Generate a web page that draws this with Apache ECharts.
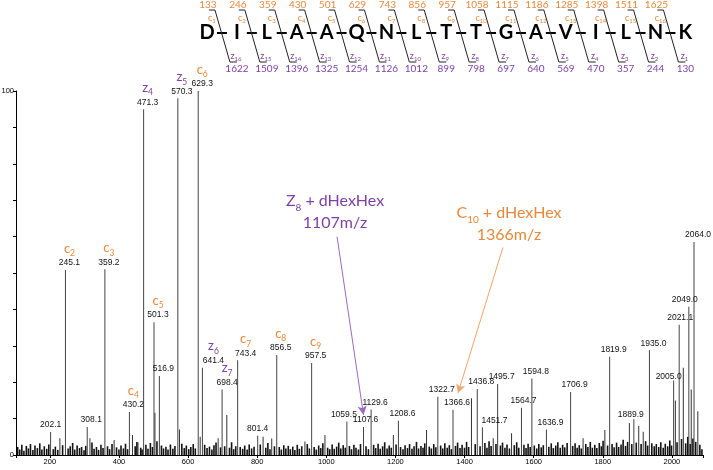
<!DOCTYPE html>
<html>
<head>
<meta charset="utf-8">
<script src="https://cdn.jsdelivr.net/npm/echarts@6/dist/echarts.min.js"></script>
<style>
html, body { margin: 0; padding: 0; background: #fff; }
#chart { width: 713px; height: 470px; }
</style>
</head>
<body>
<div id="chart"></div>
<script>
// labelled peaks (m/z, relative intensity %)
const peakMz = [202.1, 245.1, 308.1, 359.2, 430.2, 471.3, 501.3, 516.9, 570.3, 629.3, 641.4, 698.4,
    743.4, 801.4, 856.5, 957.5, 1059.5, 1107.6, 1129.6, 1208.6, 1322.7, 1366.6, 1436.8, 1451.7,
    1495.7, 1564.7, 1594.8, 1636.9, 1706.9, 1819.9, 1889.9, 1935.0, 2005.0, 2021.1, 2049.0, 2064.0];
const peakInt = [6.3, 50.8, 7.7, 51.0, 11.8, 95.0, 36.5, 21.7, 98.0, 100, 24.0, 18.0,
    26.0, 5.3, 27.5, 25.3, 9.2, 7.7, 12.5, 9.4, 16.0, 12.4, 18.1, 7.6,
    19.5, 13.0, 21.0, 7.0, 17.3, 27.0, 9.8, 28.8, 20.5, 35.8, 40.7, 58.5];
const peakIon = ['', 'c2', '', 'c3', 'c4', 'z4', 'c5', '', 'z5', 'c6', 'z6', 'z7',
    'c7', '', 'c8', 'c9', '', '', '', '', '', '', '', '',
    '', '', '', '', '', '', '', '', '', '', '', ''];

// unlabelled but visible peaks
const minorMz = [229, 316, 386, 439, 455, 504, 575, 635, 687, 712, 817, 842, 938, 996, 1194, 1290,
    1420, 1483, 1536, 1743, 1806, 1877, 1904, 1917, 2010, 2033, 2056, 2075];
const minorInt = [4.6, 4.6, 4.1, 5.5, 3.5, 11.6, 7.0, 5.0, 4.6, 11.0, 5.0, 4.5, 3.7, 5.5, 5.5, 6.9,
    15.6, 4.6, 6.0, 4.6, 6.9, 8.8, 8.0, 6.4, 15.0, 24.0, 18.0, 12.0];

// baseline noise
const noise = [
    [106,2.2],[112,1.5],[118,2.8],[124,1.2],[131,2.5],[137,1.8],[143,3.0],[150,1.4],[156,2.6],[163,1.9],
    [170,3.2],[176,1.5],[183,2.4],[190,1.7],[196,2.9],[209,1.6],[215,2.3],[222,1.4],[236,2.7],[252,1.8],
    [258,2.4],[265,3.3],[271,1.5],[278,2.6],[285,1.9],[291,2.2],[298,1.3],[303,2.5],[321,3.4],[327,1.7],
    [334,2.2],[340,1.4],[347,2.8],[353,1.9],[366,2.4],[372,1.6],[379,3.0],[392,2.1],[399,1.5],[405,2.6],
    [412,1.8],[418,3.1],[424,1.6],[446,2.4],[451,3.6],[462,2.0],[466,1.5],[477,2.8],[483,1.7],[490,3.3],
    [496,2.2],[509,3.8],[522,2.6],[528,1.8],[535,2.3],[541,1.5],[548,2.9],[555,1.7],[561,2.5],[581,3.1],
    [588,1.9],[594,2.6],[601,1.6],[607,2.2],[614,3.0],[620,1.8],[647,2.8],[654,1.9],[661,2.3],[668,1.5],
    [674,2.7],[680,3.4],[693,2.1],[705,2.4],[719,2.0],[725,3.5],[731,1.6],[737,2.4],[750,2.2],[757,1.7],
    [763,2.6],[770,1.5],[776,2.9],[783,1.8],[790,2.3],[808,2.9],[824,2.0],[830,3.3],[836,1.6],[849,2.4],
    [863,2.2],[869,1.5],[876,2.7],[882,1.8],[889,2.5],[895,1.6],[902,2.3],[908,1.4],[915,2.8],[921,1.7],
    [928,2.4],[944,3.0],[950,1.8],[964,2.2],[970,1.5],[977,2.6],[983,1.9],[989,3.2],[1003,2.0],[1009,1.6],
    [1016,2.9],[1022,1.7],[1029,2.3],[1035,3.4],[1041,1.8],[1048,2.7],[1054,2.0],[1066,2.5],[1072,1.6],[1079,2.8],
    [1085,2.0],[1092,1.5],[1098,3.0],[1114,2.4],[1121,1.6],[1136,2.8],[1142,1.9],[1149,3.1],[1155,1.7],[1162,2.4],
    [1168,3.5],[1175,1.8],[1181,2.6],[1187,2.0],[1201,2.9],[1214,2.2],[1221,1.6],[1227,2.7],[1234,1.9],[1240,3.0],
    [1247,1.7],[1253,2.4],[1260,3.6],[1266,1.8],[1273,2.5],[1279,2.0],[1284,3.2],[1297,2.3],[1303,1.8],[1310,3.0],
    [1316,2.1],[1330,2.6],[1336,1.8],[1342,3.2],[1349,2.0],[1355,2.7],[1361,1.6],[1373,2.5],[1379,3.4],[1386,1.9],
    [1392,2.8],[1399,2.0],[1405,3.6],[1411,2.2],[1430,3.0],[1444,2.4],[1458,3.3],[1464,2.0],[1470,3.8],[1476,2.5],
    [1490,3.0],[1503,2.6],[1509,3.4],[1516,2.0],[1522,2.9],[1529,1.8],[1543,2.7],[1550,3.5],[1556,2.0],[1571,2.8],
    [1577,1.9],[1583,3.1],[1589,2.2],[1601,2.6],[1608,1.8],[1614,3.0],[1621,2.1],[1627,2.7],[1643,2.3],[1650,3.2],
    [1656,1.9],[1663,2.6],[1669,3.5],[1676,2.0],[1683,2.8],[1689,2.1],[1696,3.3],[1712,2.5],[1719,3.2],[1725,2.0],
    [1731,2.7],[1737,1.8],[1750,3.0],[1756,2.2],[1763,3.6],[1769,2.0],[1776,2.8],[1782,1.9],[1789,3.3],[1795,2.4],
    [1800,3.9],[1813,2.6],[1826,3.0],[1832,2.1],[1839,3.4],[1845,2.2],[1852,2.9],[1858,4.2],[1865,2.5],[1871,3.6],
    [1883,3.0],[1896,3.4],[1910,3.0],[1923,3.8],[1929,2.6],[1941,3.2],[1948,2.4],[1954,3.0],[1961,2.2],[1967,3.5],
    [1974,2.0],[1980,3.1],[1987,2.4],[1993,4.0],[1998,2.6],[2014,3.5],[2027,4.4],[2039,3.2],[2045,5.0],[2052,3.0],
    [2060,4.5],[2068,3.6],[2080,2.8],[2086,1.6]
];

// peptide sequence with fragment ions
const residues = ['D', 'I', 'L', 'A', 'A', 'Q', 'N', 'L', 'T', 'T', 'G', 'A', 'V', 'I', 'L', 'N', 'K'];
const cIons = [133, 246, 359, 430, 501, 629, 743, 856, 957, 1058, 1115, 1186, 1285, 1398, 1511, 1625];
const zIons = [1622, 1509, 1396, 1325, 1254, 1126, 1012, 899, 798, 697, 640, 569, 470, 357, 244, 130];

const ORANGE = '#E8883A';
const PURPLE = '#7E3FA6';
const NUMFONT = 'Arial, "Liberation Sans", sans-serif';
const CALI = 'Lato, "Open Sans", sans-serif';

// label nudges (px) for crowded labels
const labelNudge = {
    202.1: [0, 0], 641.4: [11, 0], 698.4: [5, 0], 743.4: [8, 0], 801.4: [0, 0], 1059.5: [-3, 0],
    1107.6: [2, 0], 1451.7: [12, 0], 1564.7: [2, 0], 1889.9: [-3, 2], 2005.0: [-5, 3],
    2021.1: [1, 0], 2049.0: [-4, 0]
};

const richStyles = {
    num: { fontSize: 8.5, fontFamily: NUMFONT, color: '#111', lineHeight: 10 },
    c: { fontSize: 13, fontFamily: CALI, color: ORANGE, padding: [0, 0, 3, 0], verticalAlign: 'bottom' },
    cs: { fontSize: 8.5, fontFamily: CALI, color: ORANGE, verticalAlign: 'bottom' },
    z: { fontSize: 13, fontFamily: CALI, color: PURPLE, padding: [0, 0, 3, 0], verticalAlign: 'bottom' },
    zs: { fontSize: 8.5, fontFamily: CALI, color: PURPLE, verticalAlign: 'bottom' }
};

const peakData = peakMz.map((mz, i) => {
    let txt = '{num|' + mz.toFixed(1) + '}';
    const ion = peakIon[i];
    if (ion) {
        const k = ion[0];
        txt = '{' + k + '|' + k + '}{' + k + 's|' + ion.slice(1) + '}\n' + txt;
    }
    return {
        value: [mz, peakInt[i]],
        label: {
            show: true,
            position: 'top',
            distance: 2,
            offset: labelNudge[mz] || [4, 0],
            formatter: txt,
            rich: richStyles
        }
    };
});

const minorData = minorMz.map((mz, i) => [mz, minorInt[i]]);

// sequence diagram drawn as graphic elements
const seqX0 = 207, seqStep = 29.9, seqY = 33;
const seqEls = [];
residues.forEach((r, i) => {
    seqEls.push({
        type: 'text', x: seqX0 + i * seqStep, y: seqY,
        style: { text: r, fontSize: 20, fontWeight: 'bold', fontFamily: CALI, fill: '#000',
            align: 'center', verticalAlign: 'middle' }
    });
});
cIons.forEach((c, k) => {
    const bx = seqX0 + (k + 0.5) * seqStep;
    seqEls.push({ type: 'line', shape: { x1: bx - 5, y1: seqY, x2: bx + 5, y2: seqY },
        style: { stroke: '#000', lineWidth: 2 } });
    seqEls.push({ type: 'polyline',
        shape: { points: [[bx - 13, 10], [bx - 7, 10], [bx + 8, 62], [bx + 15, 62]] },
        style: { stroke: '#222', lineWidth: 1, fill: null } });
    seqEls.push({ type: 'text', x: bx - 14, y: 5,
        style: { text: String(c), fontSize: 10, fontFamily: CALI, fill: ORANGE, align: 'center', verticalAlign: 'middle' } });
    seqEls.push({ type: 'text', x: bx - 10, y: 19,
        style: { text: '{a|c}{b|' + (k + 1) + '}', align: 'center', verticalAlign: 'middle',
            rich: { a: { fontSize: 9, fontFamily: CALI, fill: ORANGE, padding: [0, 0, 2, 0], verticalAlign: 'bottom' },
                    b: { fontSize: 6, fontFamily: CALI, fill: ORANGE, verticalAlign: 'bottom' } } } });
    seqEls.push({ type: 'text', x: bx + 14, y: 57,
        style: { text: '{a|z}{b|' + (16 - k) + '}', align: 'center', verticalAlign: 'middle',
            rich: { a: { fontSize: 9, fontFamily: CALI, fill: PURPLE, padding: [0, 0, 2, 0], verticalAlign: 'bottom' },
                    b: { fontSize: 6, fontFamily: CALI, fill: PURPLE, verticalAlign: 'bottom' } } } });
    seqEls.push({ type: 'text', x: bx + 15, y: 69,
        style: { text: String(zIons[k]), fontSize: 10, fontFamily: CALI, fill: PURPLE, align: 'center', verticalAlign: 'middle' } });
});

// glycan annotations
seqEls.push({
    type: 'text', x: 335, y: 213,
    style: {
        text: '{a|Z}{b|8}{a| + dHexHex}\n{c|1107m/z}', align: 'center', verticalAlign: 'middle',
        rich: {
            a: { fontSize: 16, fontFamily: CALI, fill: PURPLE, padding: [0, 0, 4, 0], verticalAlign: 'bottom' },
            b: { fontSize: 10, fontFamily: CALI, fill: PURPLE, verticalAlign: 'bottom' },
            c: { fontSize: 16, fontFamily: CALI, fill: PURPLE, lineHeight: 21 }
        }
    }
});
seqEls.push({
    type: 'text', x: 509, y: 225,
    style: {
        text: '{a|C}{b|10}{a| + dHexHex}\n{c|1366m/z}', align: 'center', verticalAlign: 'middle',
        rich: {
            a: { fontSize: 16, fontFamily: CALI, fill: ORANGE, padding: [0, 0, 4, 0], verticalAlign: 'bottom' },
            b: { fontSize: 10, fontFamily: CALI, fill: ORANGE, verticalAlign: 'bottom' },
            c: { fontSize: 16, fontFamily: CALI, fill: ORANGE, lineHeight: 21 }
        }
    }
});

const chart = echarts.init(document.getElementById('chart'));
chart.setOption({
    animation: false,
    backgroundColor: '#fff',
    grid: { left: 16, right: 10, top: 91, bottom: 15, containLabel: false, outerBoundsMode: 'none' },
    xAxis: {
        type: 'value', min: 102, max: 2090, splitNumber: 10,
        name: 'm/z', nameLocation: 'middle', nameGap: 7,
        nameTextStyle: { fontSize: 7.5, color: '#222', fontFamily: NUMFONT },
        axisLine: { lineStyle: { color: '#000', width: 1 } },
        axisTick: { length: 3, lineStyle: { color: '#000' } },
        axisLabel: { fontSize: 7.5, color: '#000', margin: 3, fontFamily: NUMFONT,
            formatter: v => (v % 200 === 0 ? String(v) : '') },
        splitLine: { show: false }
    },
    yAxis: {
        type: 'value', min: 0, max: 100, interval: 10,
        name: '%', nameLocation: 'middle', nameGap: 6, nameRotate: 90,
        nameTextStyle: { fontSize: 7.5, color: '#222', fontFamily: NUMFONT },
        axisLine: { show: true, lineStyle: { color: '#000', width: 1 } },
        axisTick: { show: true, length: 3, lineStyle: { color: '#000' } },
        axisLabel: { fontSize: 7.5, color: '#000', margin: 2, fontFamily: NUMFONT,
            formatter: v => (v === 0 || v === 100 ? String(v) : '') },
        splitLine: { show: false }
    },
    graphic: seqEls,
    series: [
        {
            type: 'bar', name: 'noise', data: noise, barWidth: 1.6, barGap: '-100%',
            itemStyle: { color: '#111' }, silent: true
        },
        {
            type: 'bar', name: 'minor', data: minorData, barWidth: 1, barGap: '-100%',
            itemStyle: { color: '#333' }, silent: true
        },
        {
            type: 'bar', name: 'peaks', data: peakData, barWidth: 1, barGap: '-100%',
            itemStyle: { color: '#444' }, silent: true,
            markLine: {
                silent: true,
                symbol: ['none', 'arrow'],
                symbolSize: [7, 9],
                label: { show: false },
                lineStyle: { width: 1, type: 'solid' },
                data: [
                    [{ coord: [1031, 60], lineStyle: { color: '#9B6BC0' }, itemStyle: { color: '#9B6BC0' } },
                     { coord: [1107.6, 11] }],
                    [{ coord: [1511, 57], lineStyle: { color: '#F0A56A' }, itemStyle: { color: '#F0A56A' } },
                     { coord: [1381, 17] }]
                ]
            }
        }
    ]
});
</script>
</body>
</html>
